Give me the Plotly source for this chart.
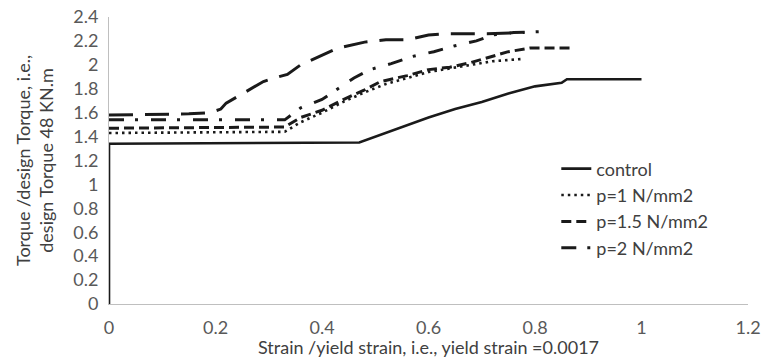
import plotly.graph_objects as go

# Normalised strain (strain / yield strain) and normalised torque for each series
control_x = [0, 0, 0.47, 0.50, 0.55, 0.60, 0.65, 0.70, 0.75, 0.80, 0.85, 0.86, 1.00]
control_y = [0, 1.34, 1.35, 1.40, 1.48, 1.56, 1.63, 1.69, 1.76, 1.82, 1.85, 1.88, 1.88]

p1_x = [0, 0.33, 0.36, 0.40, 0.44, 0.48, 0.52, 0.56, 0.60, 0.64, 0.68, 0.72, 0.78]
p1_y = [1.43, 1.44, 1.52, 1.60, 1.69, 1.77, 1.84, 1.89, 1.94, 1.97, 2.00, 2.03, 2.05]

p15_x = [0, 0.33, 0.36, 0.40, 0.44, 0.48, 0.51, 0.56, 0.60, 0.64, 0.68, 0.71, 0.75, 0.79, 0.87]
p15_y = [1.47, 1.48, 1.56, 1.62, 1.71, 1.79, 1.86, 1.91, 1.96, 1.98, 2.02, 2.06, 2.11, 2.14, 2.14]

p2_x = [0, 0.33, 0.36, 0.40, 0.43, 0.46, 0.49, 0.53, 0.57, 0.61, 0.65, 0.69, 0.72, 0.76, 0.83]
p2_y = [1.54, 1.54, 1.64, 1.71, 1.80, 1.89, 1.96, 2.01, 2.07, 2.11, 2.16, 2.20, 2.25, 2.27, 2.28]

p2b_x = [0, 0.15, 0.19, 0.21, 0.22, 0.26, 0.29, 0.31, 0.335, 0.36, 0.41, 0.43, 0.48, 0.52,
         0.56, 0.60, 0.63, 0.71, 0.78]
p2b_y = [1.58, 1.59, 1.60, 1.63, 1.68, 1.78, 1.86, 1.89, 1.92, 2.00, 2.10, 2.14, 2.19, 2.21,
         2.21, 2.25, 2.26, 2.26, 2.27]

x_ticks = [0, 0.2, 0.4, 0.6, 0.8, 1, 1.2]
y_ticks = [0, 0.2, 0.4, 0.6, 0.8, 1, 1.2, 1.4, 1.6, 1.8, 2, 2.2, 2.4]

FONT = "Lato"
INK = "#1a1a1a"

fig = go.Figure()

fig.add_trace(go.Scatter(x=p2b_x, y=p2b_y, mode="lines", showlegend=False,
                         name="p=2 N/mm2 (b)",
                         line=dict(color=INK, width=3, dash="24px,12px")))
fig.add_trace(go.Scatter(x=control_x, y=control_y, mode="lines", name="control",
                         line=dict(color=INK, width=2.6)))
fig.add_trace(go.Scatter(x=p1_x, y=p1_y, mode="lines", name="p=1 N/mm2",
                         line=dict(color=INK, width=2.6, dash="2.5px,4px")))
fig.add_trace(go.Scatter(x=p15_x, y=p15_y, mode="lines", name="p=1.5 N/mm2",
                         line=dict(color=INK, width=3, dash="10px,5px")))
fig.add_trace(go.Scatter(x=p2_x, y=p2_y, mode="lines", name="p=2 N/mm2",
                         line=dict(color=INK, width=3, dash="15px,11px,3px,13px")))

fig.update_layout(
    width=772, height=358,
    margin=dict(l=109, r=24, t=17, b=54),
    paper_bgcolor="white", plot_bgcolor="white",
    font=dict(family=FONT, size=18, color="#595959"),
    showlegend=True,
    legend=dict(x=0.70, y=0.535, xanchor="left", yanchor="top",
                bgcolor="rgba(0,0,0,0)", font=dict(size=18, color="#404040"),
                tracegroupgap=0, traceorder="normal"),
    xaxis=dict(range=[0, 1.2], tickvals=x_ticks, ticktext=[f"{v:g}" for v in x_ticks],
               showgrid=False, zeroline=False, showline=True, linecolor="#bfbfbf",
               linewidth=1, ticks="", ticklabelstandoff=7, automargin=False,
               title=dict(text="Strain /yield strain, i.e., yield strain =0.0017",
                          font=dict(size=18, color="#404040"), standoff=4)),
    yaxis=dict(range=[0, 2.4], tickvals=y_ticks, ticktext=[f"{v:g}" for v in y_ticks],
               showgrid=False, zeroline=False, showline=True, linecolor="#bfbfbf",
               linewidth=1, ticks="", ticklabelstandoff=6, automargin=False,
               title=dict(text="Torque /design Torque, i.e.,<br>design Torque 48 KN.m",
                          font=dict(size=18, color="#404040"), standoff=14)),
)

fig.write_html("out.html")
